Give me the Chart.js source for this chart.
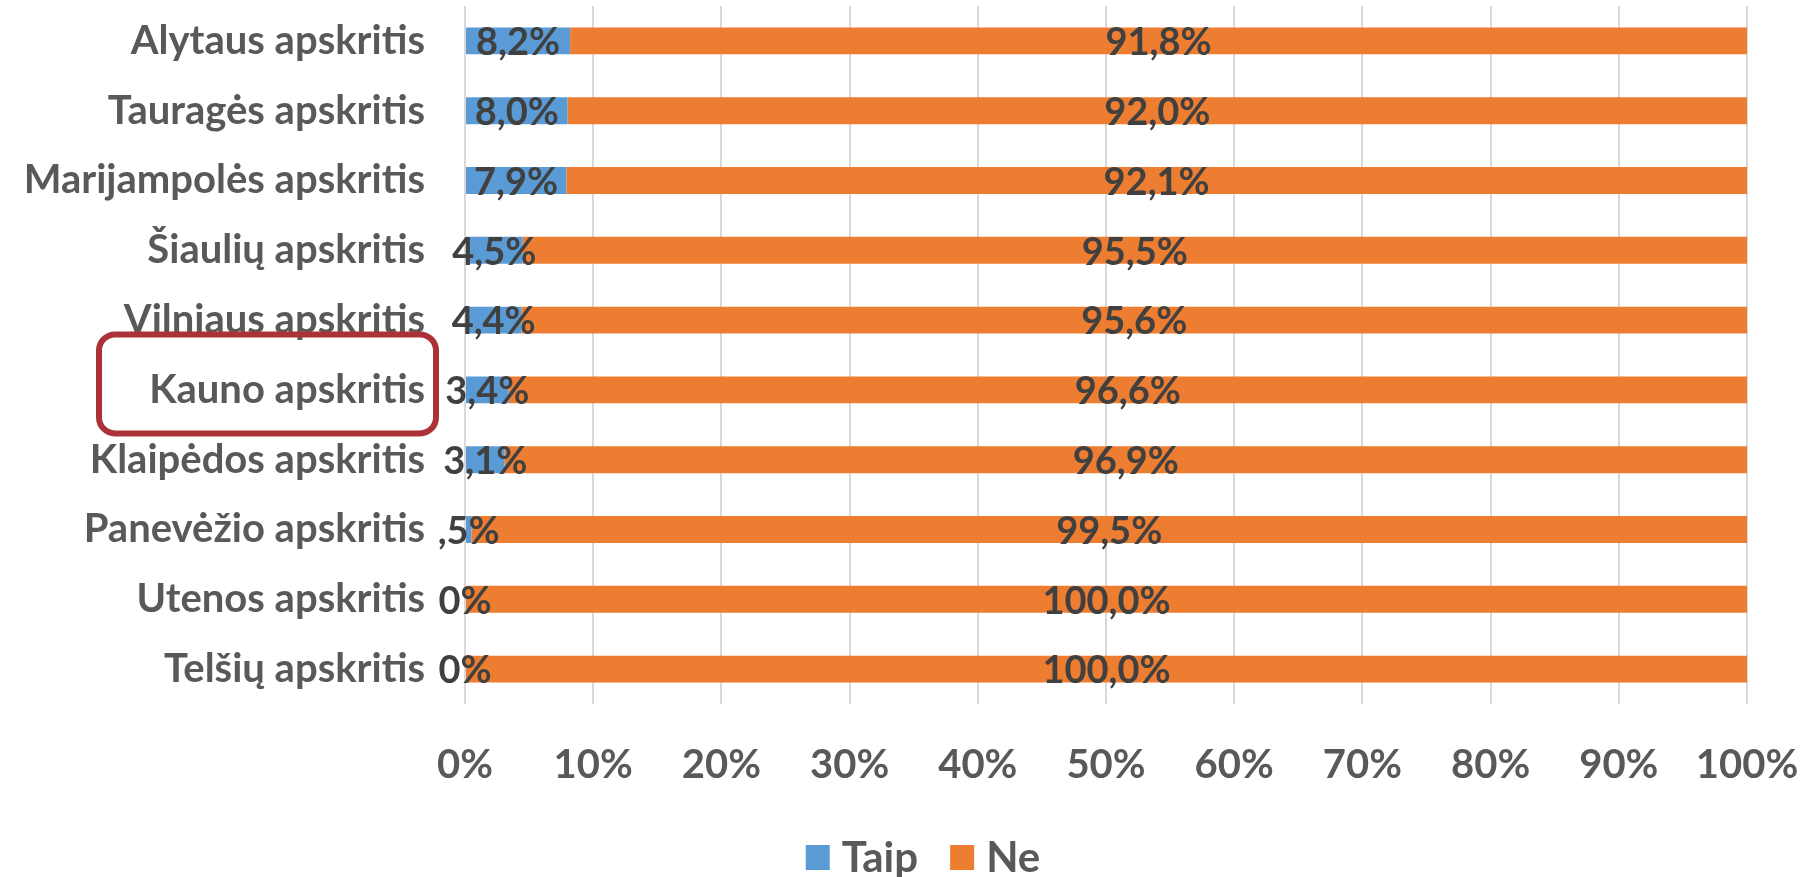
<!DOCTYPE html>
<html lang="lt">
<head>
  <meta charset="UTF-8">
  <title>Apskritys: Taip / Ne</title>
  <script src="https://cdn.jsdelivr.net/npm/chart.js"></script>
  <style>
    html, body { margin: 0; padding: 0; background: #fff; }
    #wrap { width: 1812px; height: 877px; }
  </style>
</head>
<body>
  <div id="wrap"><canvas id="barChart" width="1812" height="877"></canvas></div>

  <script>
    const regions = [
      'Alytaus apskritis', 'Tauragės apskritis', 'Marijampolės apskritis',
      'Šiaulių apskritis', 'Vilniaus apskritis', 'Kauno apskritis',
      'Klaipėdos apskritis', 'Panevėžio apskritis', 'Utenos apskritis', 'Telšių apskritis'
    ];
    const taip = [8.2, 8.0, 7.9, 4.5, 4.4, 3.4, 3.1, 0.5, 0, 0];
    const ne = [91.8, 92.0, 92.1, 95.5, 95.6, 96.6, 96.9, 99.5, 100.0, 100.0];
    // label texts as printed on the original (the 0 of 0,5% is lost there)
    const taipText = ['8,2%', '8,0%', '7,9%', '4,5%', '4,4%', '3,4%', '3,1%', ',5%', '0%', '0%'];
    const neText = ['91,8%', '92,0%', '92,1%', '95,5%', '95,6%', '96,6%', '96,9%', '99,5%', '100,0%', '100,0%'];
    const xTicks = [0, 10, 20, 30, 40, 50, 60, 70, 80, 90, 100];
    const highlighted = 'Kauno apskritis';

    const FONT = 'Lato, "Open Sans", sans-serif';
    const ctx = document.getElementById('barChart').getContext('2d');

    const valueLabels = {
      id: 'valueLabels',
      afterDatasetsDraw(chart) {
        const c = chart.ctx;
        const texts = [taipText, neText];
        c.save();
        c.font = 'bold 38px ' + FONT;
        c.fillStyle = '#404040';
        c.textAlign = 'center';
        c.textBaseline = 'middle';
        chart.data.datasets.forEach((ds, di) => {
          chart.getDatasetMeta(di).data.forEach((el, i) => {
            c.fillText(texts[di][i], (el.x + el.base) / 2, el.y + 2);
          });
        });
        c.restore();
      }
    };

    const highlightBox = {
      id: 'highlightBox',
      afterDraw(chart) {
        const y = chart.scales.y;
        const cy = y.getPixelForValue(regions.indexOf(highlighted)) - 6;
        const x0 = 99, x1 = 436, h = 99, r = 16;
        const c = chart.ctx;
        c.save();
        c.strokeStyle = '#ab3337';
        c.lineWidth = 6;
        c.beginPath();
        c.roundRect(x0, cy - h / 2, x1 - x0, h, r);
        c.stroke();
        c.restore();
      }
    };

    // legend under the plot, drawn by hand to get the tight box/text gap
    const bottomLegend = {
      id: 'bottomLegend',
      afterDraw(chart) {
        const c = chart.ctx;
        const sets = chart.data.datasets;
        const box = 24, gap = 12, between = 32, y = 857;
        c.save();
        c.font = 'bold 42px ' + FONT;
        c.textBaseline = 'middle';
        const widths = sets.map(ds => box + gap + c.measureText(ds.label).width);
        const total = widths.reduce((a, b) => a + b, 0) + between * (sets.length - 1);
        let x = chart.width / 2 - total / 2 + 17;
        sets.forEach((ds, i) => {
          c.fillStyle = ds.backgroundColor;
          c.fillRect(x, y - 12, box, 25);
          c.fillStyle = '#595959';
          c.fillText(ds.label, x + box + gap, y + 1);
          x += widths[i] + between;
        });
        c.restore();
      }
    };

    new Chart(ctx, {
      type: 'bar',
      data: {
        labels: regions,
        datasets: [
          { label: 'Taip', data: taip, backgroundColor: '#5b9bd5', categoryPercentage: 1, barPercentage: 0.385 },
          { label: 'Ne', data: ne, backgroundColor: '#ed7d31', categoryPercentage: 1, barPercentage: 0.385 }
        ]
      },
      options: {
        indexAxis: 'y',
        responsive: false,
        animation: false,
        layout: { padding: { top: 6, right: 65, left: 0, bottom: 60 } },
        scales: {
          x: {
            stacked: true,
            min: 0,
            max: 100,
            afterBuildTicks: (s) => { s.ticks = xTicks.map(v => ({ value: v })); },
            afterFit: (s) => { s.height = 113; s.paddingLeft = 0; s.paddingRight = 0; },
            border: { display: false },
            grid: { color: '#d9d9d9', lineWidth: 2, drawTicks: false },
            ticks: {
              padding: 37,
              color: '#595959',
              font: { family: FONT, size: 40, weight: 'bold' },
              callback: (v) => v + '%'
            }
          },
          y: {
            stacked: true,
            afterFit: (s) => { s.width = 465; s.paddingTop = 0; s.paddingBottom = 0; },
            border: { display: false },
            grid: { display: false, drawTicks: false },
            ticks: {
              padding: 40,
              color: '#595959',
              font: { family: FONT, size: 40, weight: 'bold' }
            }
          }
        },
        plugins: {
          legend: { display: false },
          tooltip: { enabled: false }
        }
      },
      plugins: [valueLabels, highlightBox, bottomLegend]
    });
  </script>
</body>
</html>
